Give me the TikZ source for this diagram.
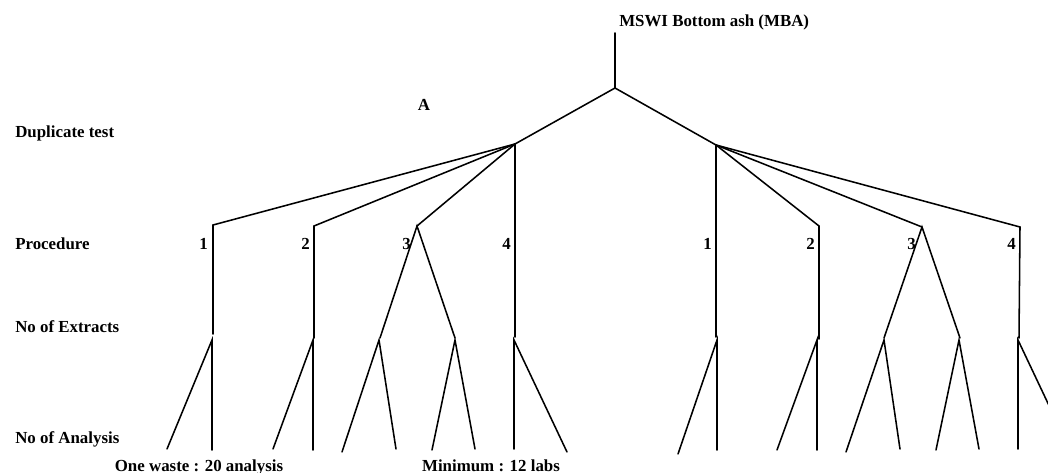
\documentclass[tikz,border=0pt]{standalone}
\usepackage{fontspec}
\setmainfont{Liberation Serif}
\usetikzlibrary{positioning}
\begin{document}
\begin{tikzpicture}[x=0.025cm,y=-0.025cm,
  lbl/.style={font=\bfseries\fontsize{12}{14}\selectfont,inner sep=0pt},
  branch/.style={line width=1.1pt,line cap=round}]
  \useasboundingbox (0,0) rectangle (1048,473);
  \clip (0,0) rectangle (1048,473);
  % sample and the duplicate split
  \node[lbl,anchor=base west] (title) at (619,27) {MSWI Bottom ash (MBA)};
  \coordinate (stem) at (615,33);
  \coordinate (root) at (615,88);
  \coordinate (dupL) at (515,144);
  \coordinate (dupR) at (716,145);
  \draw[branch] (stem) -- (root);
  \draw[branch] (dupL) -- (root) -- (dupR);
  \node[lbl,anchor=base] (A) at (424,111) {A};
  % row labels
  \foreach \y/\name/\txt in {138/rowdup/{Duplicate test},249/rowproc/{Procedure},
    332/rowext/{No of Extracts},443/rowana/{No of Analysis}}
    \node[lbl,anchor=base west] (\name) at (15,\y) {\txt};
  % procedures with one extract
  \foreach \id/\dup/\tx/\ty/\bx/\by in {l1/dupL/213/225/213/334,l2/dupL/314/226/314/338,
    l4/dupL/515/144/515/337,r1/dupR/716/145/716/337,r2/dupR/819/226/819/339,r4/dupR/1020/227/1019/338}
    {
    \coordinate (top\id) at (\tx,\ty);
    \coordinate (bot\id) at (\bx,\by);
    \draw[branch] (\dup) -- (top\id) -- (bot\id);
    }
  % procedure 3 gives two extracts
  \foreach \id/\dup/\ax/\ay/\lx/\rx in {l3/dupL/417/226/380/455,r3/dupR/922/227/884/960}
    {
    \coordinate (top\id) at (\ax,\ay);
    \coordinate (bot\id a) at (\lx,338);
    \coordinate (bot\id b) at (\rx,338);
    \draw[branch] (\dup) -- (top\id);
    \draw[branch] (bot\id a) -- (top\id) -- (bot\id b);
    }
  \foreach \x/\num in {208/1,310/2,411/3,511/4,712/1,815/2,916/3,1016/4}
    \node[lbl,anchor=base east] (num\x) at (\x,249) {\num};
  % extracts, two analyses each
  \foreach \id/\ex/\ax/\ay/\bx/\by in {e1/212/167/449/212/450,e2/313/273/449/313/450,
    e3/379/342/452/396/449,e4/455/432/450/475/449,e5/514/514/449/567/452,
    e6/717/678/454/717/450,e7/817/777/450/817/450,e8/884/846/452/900/449,
    e9/959/936/450/979/449,e10/1018/1018/449/1071/452}
    {
    \coordinate (\id) at (\ex,340);
    \coordinate (\id a) at (\ax,\ay);
    \coordinate (\id b) at (\bx,\by);
    \draw[branch] (\id a) -- (\id) -- (\id b);
    }
  \node[lbl,anchor=base] (waste) at (199,471) {One waste : 20 analysis};
  \node[lbl,anchor=base] (labs) at (491,471) {Minimum : 12 labs};
\end{tikzpicture}
\end{document}
